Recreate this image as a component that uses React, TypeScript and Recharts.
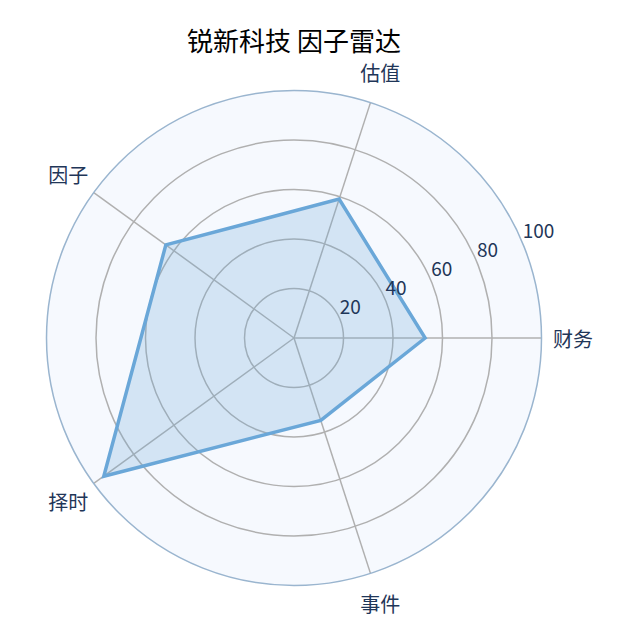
import React from 'react';
import { RadarChart, Radar, PolarGrid, PolarAngleAxis, PolarRadiusAxis } from 'recharts';

// counter-clockwise from the right-hand axis
const factors = ['财务', '估值', '因子', '择时', '事件'];
const scores = [53, 59, 64, 95, 35];
const radiusTicks = [20, 40, 60, 80, 100];
const chartTitle = '锐新科技 因子雷达';

const CX = 294;
const CY = 338;
const OUTER = 247.5;
const LABEL_R = 279;
const FONT = '"Noto Sans CJK SC", "Noto Sans", sans-serif';
const NAVY = '#1f3658';

// recharts lays categories out clockwise, so keep the first one and walk the rest backwards
const order = [0, ...factors.slice(1).map((_, i) => factors.length - 1 - i)];
const data = order.map((i) => ({ name: factors[i], score: scores[i] }));

const AngleTick = (props: any) => {
  const deg = props.payload.coordinate;
  const rad = (deg * Math.PI) / 180;
  const x = CX + LABEL_R * Math.cos(rad);
  const y = CY - LABEL_R * Math.sin(rad);
  return (
    <text x={x} y={y} textAnchor="middle" dominantBaseline="central" fill={NAVY} fontSize={20} fontFamily={FONT}>
      {props.payload.value}
    </text>
  );
};

const RadiusTick = (props: any) => (
  <text x={props.x} y={props.y - 5} textAnchor="start" fill={NAVY} fontSize={19} fontFamily={FONT}>
    {props.payload.value}
  </text>
);

export default function App() {
  const innerRadii = radiusTicks.slice(0, -1).map((t) => (t / 100) * OUTER);
  return (
    <div style={{ position: 'absolute', left: 0, top: 0, width: 640, height: 640 }}>
      {/* pale disc behind the grid */}
      <svg width={640} height={640} style={{ position: 'absolute', left: 0, top: 0 }}>
        <circle cx={CX} cy={CY} r={OUTER} fill="#f6f9fe" />
        <text x={CX} y={39} textAnchor="middle" dominantBaseline="central" fill="#000" fontSize={26} fontFamily={FONT}>
          {chartTitle}
        </text>
      </svg>
      <div style={{ position: 'absolute', left: 0, top: 0 }}>
        <RadarChart
          width={640}
          height={640}
          cx={CX}
          cy={CY}
          outerRadius={OUTER}
          startAngle={0}
          endAngle={-360}
          data={data}
          margin={{ top: 0, right: 0, bottom: 0, left: 0 }}
        >
          <PolarGrid gridType="circle" polarRadius={innerRadii} stroke="#b0b0b0" strokeWidth={1.5} strokeOpacity={1} />
          <circle cx={CX} cy={CY} r={OUTER} fill="none" stroke="#9ab5cf" strokeWidth={1.5} />
          <PolarAngleAxis dataKey="name" tick={AngleTick} axisLine={false} tickLine={false} />
          <PolarRadiusAxis
            angle={22.5}
            domain={[0, 100]}
            ticks={radiusTicks as any}
            tick={RadiusTick}
            axisLine={false}
            tickLine={false}
          />
          <Radar
            dataKey="score"
            stroke="#6aa7d8"
            strokeWidth={3.5}
            fill="#6aa7d8"
            fillOpacity={0.25}
            isAnimationActive={false}
          />
        </RadarChart>
      </div>
    </div>
  );
}
